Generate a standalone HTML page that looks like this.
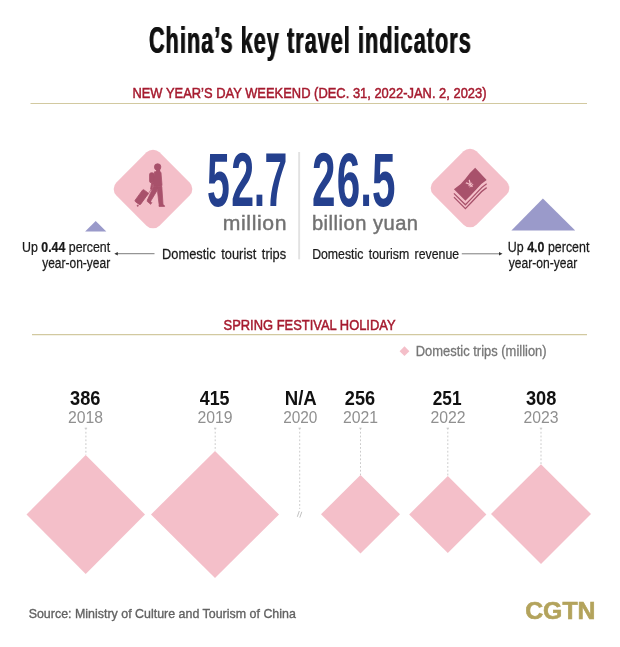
<!DOCTYPE html>
<html lang="en">
<head>
<meta charset="utf-8">
<title>China's key travel indicators</title>
<style>
html,body{margin:0;padding:0;background:#fff;}
body{width:620px;height:647px;overflow:hidden;}
svg{display:block;font-family:"Liberation Sans", sans-serif;}
</style>
</head>
<body>
<svg width="620" height="647" viewBox="0 0 620 647">
<rect width="620" height="647" fill="#ffffff"/>
<g id="rules" stroke="#d2c9a0" stroke-width="1.2">
<line x1="30.5" y1="103.5" x2="587" y2="103.5"/>
<line x1="32" y1="334.7" x2="587" y2="334.7"/>
</g>
<rect x="298.2" y="152" width="1.9" height="107.3" fill="#e2e2e2"/>
<g id="icon-diamonds" fill="#f4bfc9">
<rect x="-30.5" y="-30.5" width="61" height="61" rx="9.2" transform="translate(153 189) rotate(45)"/>
<rect x="-30.5" y="-30.5" width="61" height="61" rx="9.2" transform="translate(470 188) rotate(45)"/>
</g>
<g id="triangles" fill="#9a9aca">
<polygon points="95.7,221 85.1,231.6 106.3,231.6"/>
<polygon points="542.9,198.4 511.4,230.4 575.2,230.4"/>
</g>
<g id="arrows" stroke="#444" stroke-width="0.7" fill="#333">
<line x1="154.5" y1="253.7" x2="117" y2="253.7"/>
<polygon points="114.3,253.7 117.8,252 117.8,255.4" stroke="none"/>
<line x1="461.8" y1="253.8" x2="500" y2="253.8"/>
<polygon points="502.5,253.8 499,252.1 499,255.5" stroke="none"/>
</g>
<g id="dots" stroke="#c2c2c2" stroke-width="0.85" stroke-dasharray="1.8 2" fill="none">
<line x1="85.9" y1="428" x2="85.9" y2="455"/>
<line x1="215.2" y1="428" x2="215.2" y2="451"/>
<line x1="299.7" y1="428" x2="299.7" y2="509"/>
<line x1="360.5" y1="428" x2="360.5" y2="475"/>
<line x1="447.8" y1="428" x2="447.8" y2="476"/>
<line x1="541" y1="428" x2="541" y2="464.5"/>
</g>
<g id="ticks" stroke="#bdbdbd" stroke-width="0.8">
<line x1="84.7" y1="428.2" x2="87.1" y2="428.2"/>
<line x1="214" y1="428.2" x2="216.4" y2="428.2"/>
<line x1="298.5" y1="428.2" x2="300.9" y2="428.2"/>
<line x1="359.3" y1="428.2" x2="361.7" y2="428.2"/>
<line x1="446.6" y1="428.2" x2="449" y2="428.2"/>
<line x1="539.8" y1="428.2" x2="542.2" y2="428.2"/>
</g>
<g id="break" stroke="#a8a8a8" stroke-width="0.7"><line x1="297.3" y1="516.8" x2="299.3" y2="511"/><line x1="299.8" y1="517.6" x2="301.8" y2="511.8"/></g>
<g id="diamonds" fill="#f4bfc9">
<polygon points="85.7,455 145,514.5 85.7,574 26.5,514.5"/>
<polygon points="215,451 279,514.5 215,578 151,514.5"/>
<polygon points="360.5,475 400,514.3 360.5,553.5 321,514.3"/>
<polygon points="447.8,476 486.4,514.5 447.8,553 409.2,514.5"/>
<polygon points="541,464.2 591,514 541,563.9 491,514"/>
<polygon points="404.5,346.3 409.4,351.2 404.5,356.1 399.6,351.2"/>
</g>
<g id="icon-person" transform="translate(130 160) scale(0.07722)" fill="#a8516b" stroke="#a8516b" stroke-width="10" stroke-linejoin="round">
<circle cx="358" cy="90" r="42"/>
<rect x="253" y="165" width="60" height="130" rx="24"/>
<path d="M318,152 L388,150 Q400,152 402,170 L414,318 L410,342 L305,342 L298,300 Z"/>
<path d="M280,295 L300,300 L284,382 L266,378 Z"/>
<path d="M412,345 L428,582 L378,586 L356,405 L345,345 Z"/>
<rect x="338" y="115" width="52" height="40" stroke="none"/>
<path d="M376,584 L436,584 Q450,590 448,601 L376,601 Z"/>
<path d="M303,345 L352,345 L348,400 L264,540 L226,516 Z"/>
<path d="M224,520 L242,512 L282,552 L268,574 L222,535 Z"/>
<rect x="-94" y="-44" width="188" height="88" rx="14" transform="translate(150 481) rotate(-54)"/>
<circle cx="100" cy="592" r="8"/>
<path d="M272,384 L222,458" fill="none" stroke-width="9"/>
</g>
<g id="icon-money" transform="translate(445 160) scale(0.08503)">
<path d="M355,92 L490,235 Q430,270 370,345 Q310,410 240,480 L105,345 Q190,290 240,220 Q290,150 355,92 Z" fill="#a8516b"/>
<path d="M105,392 L240,527 Q310,455 370,390 Q430,318 490,280" fill="none" stroke="#a8516b" stroke-width="15"/>
<path d="M105,437 L240,572 Q310,500 370,435 Q430,363 490,325" fill="none" stroke="#a8516b" stroke-width="15"/>
</g>
<text transform="translate(470.2 184.2) rotate(-42)" text-anchor="middle" font-size="10.5" font-weight="700" fill="#f4bfc9" dy="3.5">¥</text>

<g id="labels">
<text transform="translate(148.70 53.0) scale(0.5759 1)" font-size="37.6" font-weight="700" fill="#111" style="filter:drop-shadow(1.2px 0 0 #111)" letter-spacing="1.8">China’s key travel indicators</text>
<text transform="translate(132.42 97.9) scale(0.8566 1)" font-size="15.1" font-weight="400" fill="#a61b2f" stroke="#a61b2f" stroke-width="0.5">NEW YEAR’S DAY WEEKEND (DEC. 31, 2022-JAN. 2, 2023)</text>
<text transform="translate(207.11 206.1) scale(0.5426 1)" font-size="75.6" font-weight="700" fill="#24408e" dx="0 2.4 -0.5 -1.2">52.7</text>
<text transform="translate(312.03 206.1) scale(0.5588 1)" font-size="75.6" font-weight="700" fill="#24408e" dx="0 2.4 0 0">26.5</text>
<text transform="translate(222.74 229.9) scale(1.0193 1)" font-size="20.8" font-weight="400" fill="#727272" stroke="#727272" stroke-width="0.45" letter-spacing="0.6">million</text>
<text transform="translate(311.92 229.7) scale(0.9687 1)" font-size="20.8" font-weight="400" fill="#727272" stroke="#727272" stroke-width="0.45" letter-spacing="0.5">billion yuan</text>
<text transform="translate(162.09 259.3) scale(0.8344 1)" font-size="15.4" font-weight="400" fill="#1a1a1a" stroke="#1a1a1a" stroke-width="0.25" word-spacing="2.5">Domestic tourist trips</text>
<text transform="translate(312.13 259.3) scale(0.7993 1)" font-size="15.4" font-weight="400" fill="#1a1a1a" stroke="#1a1a1a" stroke-width="0.25" word-spacing="2.5">Domestic tourism revenue</text>
<text transform="translate(21.96 251.7) scale(0.8157 1)" font-size="15.2" font-weight="400" fill="#1a1a1a" stroke="#1a1a1a" stroke-width="0.25">Up <tspan font-weight="700">0.44</tspan> percent</text>
<text transform="translate(42.16 267.7) scale(0.7891 1)" font-size="15.2" font-weight="400" fill="#1a1a1a" stroke="#1a1a1a" stroke-width="0.25">year-on-year</text>
<text transform="translate(507.86 251.7) scale(0.8183 1)" font-size="15.2" font-weight="400" fill="#1a1a1a" stroke="#1a1a1a" stroke-width="0.25">Up <tspan font-weight="700">4.0</tspan> percent</text>
<text transform="translate(508.66 267.7) scale(0.7961 1)" font-size="15.2" font-weight="400" fill="#1a1a1a" stroke="#1a1a1a" stroke-width="0.25">year-on-year</text>
<text transform="translate(223.54 329.9) scale(0.8557 1)" font-size="15.1" font-weight="400" fill="#a61b2f" stroke="#a61b2f" stroke-width="0.5">SPRING FESTIVAL HOLIDAY</text>
<text transform="translate(415.74 356.2) scale(0.9317 1)" font-size="13.9" font-weight="400" fill="#777" stroke="#777" stroke-width="0.3">Domestic trips (million)</text>
<text transform="translate(70.04 404.5) scale(0.9202 1)" font-size="19.8" font-weight="700" fill="#111" >386</text>
<text transform="translate(67.91 422.8) scale(0.9675 1)" font-size="16.3" font-weight="400" fill="#909090" >2018</text>
<text transform="translate(199.72 404.5) scale(0.9041 1)" font-size="19.8" font-weight="700" fill="#111" >415</text>
<text transform="translate(197.41 422.8) scale(0.9691 1)" font-size="16.3" font-weight="400" fill="#909090" >2019</text>
<text transform="translate(284.73 404.5) scale(0.9410 1)" font-size="19.8" font-weight="700" fill="#111" >N/A</text>
<text transform="translate(283.13 422.8) scale(0.9455 1)" font-size="16.3" font-weight="400" fill="#909090" >2020</text>
<text transform="translate(344.87 404.5) scale(0.9195 1)" font-size="19.8" font-weight="700" fill="#111" >256</text>
<text transform="translate(342.91 422.8) scale(0.9685 1)" font-size="16.3" font-weight="400" fill="#909090" >2021</text>
<text transform="translate(432.70 404.5) scale(0.8723 1)" font-size="19.8" font-weight="700" fill="#111" >251</text>
<text transform="translate(430.41 422.8) scale(0.9693 1)" font-size="16.3" font-weight="400" fill="#909090" >2022</text>
<text transform="translate(525.94 404.5) scale(0.9201 1)" font-size="19.8" font-weight="700" fill="#111" >308</text>
<text transform="translate(523.41 422.8) scale(0.9676 1)" font-size="16.3" font-weight="400" fill="#909090" >2023</text>
<text transform="translate(28.66 618.1) scale(0.9566 1)" font-size="13" font-weight="400" fill="#626262" stroke="#626262" stroke-width="0.35">Source: Ministry of Culture and Tourism of China</text>
<text transform="translate(525.19 619) scale(1.0214 1)" font-size="24.3" font-weight="700" fill="#b3a35c" stroke="#b3a35c" stroke-width="0.6">CGTN</text>
</g>
</svg>
</body>
</html>
